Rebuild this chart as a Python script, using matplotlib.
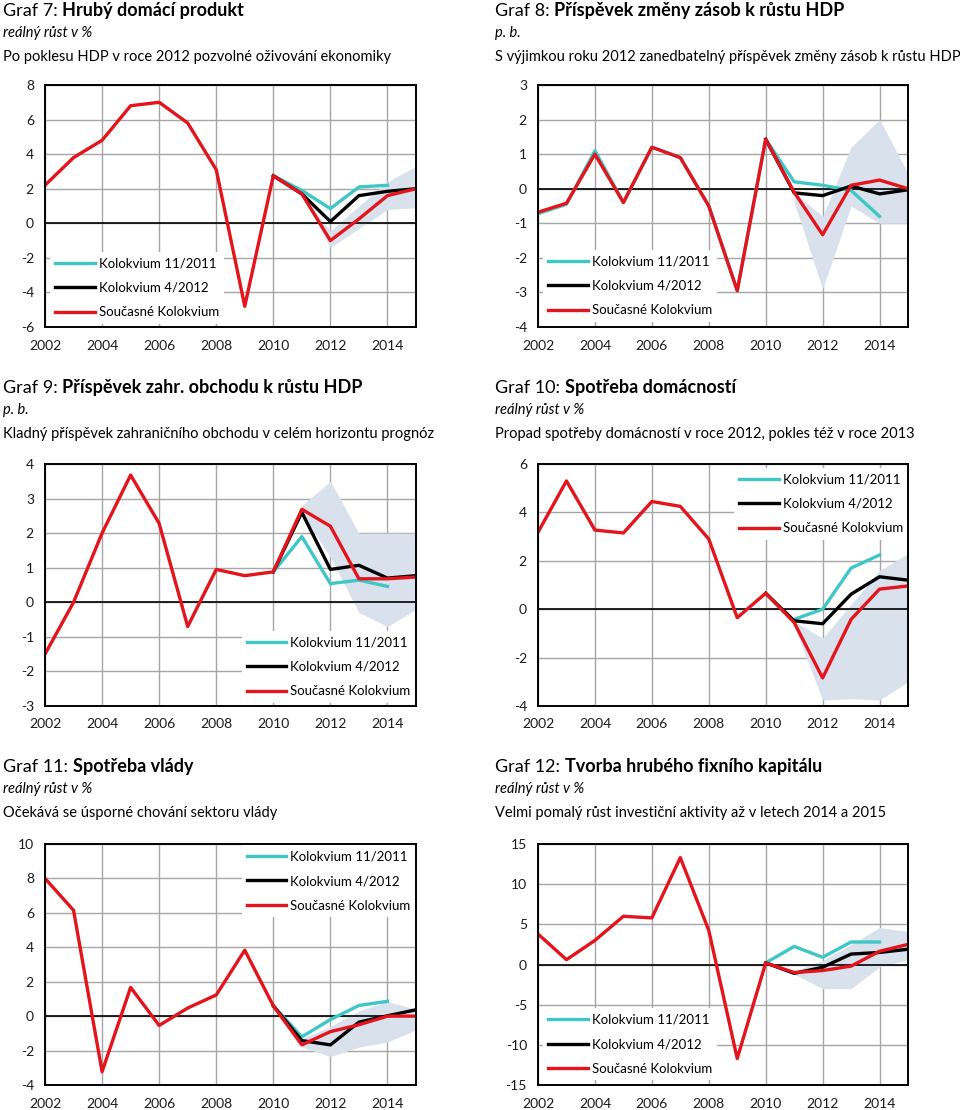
import numpy as np
import matplotlib.pyplot as plt
from matplotlib.text import Annotation

plt.rcParams['font.family'] = ['Lato', 'DejaVu Sans']
plt.rcParams['axes.unicode_minus'] = False

W, H = 960, 1110
years = list(range(2002, 2016))
band_years = list(range(2011, 2016))

# Graf 7: HDP
gdp_now = [2.2, 3.8, 4.8, 6.8, 7.0, 5.8, 3.1, -4.8, 2.75, 1.7, -1.0, 0.25, 1.6, 2.0]
gdp_apr12 = [2.75, 1.7, 0.1, 1.6, 1.85, 2.0]       # od 2010
gdp_nov11 = [2.75, 1.9, 0.85, 2.1, 2.2]            # od 2010
gdp_lo = [1.7, -1.4, -0.3, 0.8, 0.9]
gdp_hi = [1.7, -0.45, 1.0, 2.4, 3.3]

# Graf 8: zasoby
inv_now = [-0.68, -0.42, 1.0, -0.4, 1.2, 0.9, -0.5, -2.95, 1.43, -0.1, -1.33, 0.1, 0.25, 0.0]
inv_apr12 = [1.43, -0.12, -0.2, 0.08, -0.15, -0.03]  # od 2010
inv_nov11 = [-0.72, -0.45, 1.1, -0.4, 1.2, 0.9, -0.5, -2.95, 1.43, 0.2, 0.1, -0.05, -0.8]  # od 2002
inv_lo = [-0.4, -2.9, -0.5, -1.0, -1.0]
inv_hi = [-0.1, -0.8, 1.2, 2.0, 0.45]

# Graf 9: zahranicni obchod
nx_now = [-1.5, 0.0, 2.0, 3.68, 2.28, -0.7, 0.95, 0.77, 0.88, 2.69, 2.2, 0.68, 0.68, 0.73]
nx_apr12 = [0.88, 2.6, 0.95, 1.07, 0.7, 0.77]        # od 2010
nx_nov11 = [0.88, 1.9, 0.54, 0.64, 0.46]             # od 2010
nx_lo = [2.6, 1.3, -0.3, -0.7, -0.2]
nx_hi = [2.8, 3.5, 2.0, 2.0, 2.0]

# Graf 10: spotreba domacnosti
hh_now = [3.18, 5.3, 3.27, 3.15, 4.45, 4.25, 2.9, -0.35, 0.66, -0.55, -2.84, -0.42, 0.83, 0.96]
hh_apr12 = [0.66, -0.48, -0.6, 0.62, 1.34, 1.2]      # od 2010
hh_nov11 = [-0.42, 0.0, 1.7, 2.24]                   # od 2011
hh_lo = [-0.7, -3.75, -3.7, -3.75, -3.0]
hh_hi = [-0.5, -1.2, 0.2, 1.6, 2.3]

# Graf 11: spotreba vlady
gov_now = [8.0, 6.15, -3.23, 1.67, -0.54, 0.47, 1.23, 3.83, 0.6, -1.67, -0.9, -0.5, 0.0, 0.0]
gov_apr12 = [0.6, -1.42, -1.67, -0.35, 0.02, 0.37]   # od 2010
gov_nov11 = [0.6, -1.2, -0.2, 0.62, 0.86]            # od 2010
gov_lo = [-1.8, -2.35, -1.8, -1.5, -0.8]
gov_hi = [-1.3, -0.6, 0.3, 0.85, 0.4]

# Graf 12: investice
gfcf_now = [3.8, 0.6, 3.0, 6.0, 5.8, 13.3, 4.25, -11.7, 0.2, -1.0, -0.75, -0.2, 1.65, 2.5]
gfcf_apr12 = [0.2, -1.1, -0.35, 1.3, 1.5, 1.9]       # od 2010
gfcf_nov11 = [0.2, 2.25, 0.9, 2.8, 2.8]              # od 2010
gfcf_lo = [-1.2, -3.0, -3.0, -0.3, 0.6]
gfcf_hi = [-0.8, 0.5, 2.5, 4.6, 4.1]

labels = ['Kolokvium 11/2011', 'Kolokvium 4/2012', 'Současné Kolokvium']
c_nov = '#3fc6c6'
c_apr = '#000000'
c_now = '#e3141c'
c_band = '#d8e1ec'

fig = plt.figure(figsize=(W / 100, H / 100), dpi=100)


def px_axes(left, top, right, bottom):
    return fig.add_axes([left / W, 1 - bottom / H, (right - left) / W, (bottom - top) / H])


def heading(x, y, num, bold, sub, desc):
    t = fig.text(x / W, 1 - y / H, num + ' ', fontsize=13, va='center', ha='left')
    fig.add_artist(Annotation(bold, xy=(1, 0), xycoords=t, fontsize=13, fontweight='bold',
                              va='bottom', ha='left', annotation_clip=False))
    fig.text(x / W, 1 - (y + 22) / H, sub, fontsize=10.5, style='italic', va='center')
    fig.text(x / W, 1 - (y + 46) / H, desc, fontsize=10.5, va='center')


def panel(box, now, apr12, apr_from, nov11, nov_from, lo, hi, ylim, ystep, leg_anchor):
    ax = px_axes(*box)
    ax.fill_between(band_years, lo, hi, color=c_band, lw=0, zorder=2)
    ax.axhline(0, color='black', lw=1.2, zorder=2.5)
    l1, = ax.plot(range(nov_from, nov_from + len(nov11)), nov11, color=c_nov, lw=2.4, zorder=3)
    l2, = ax.plot(range(apr_from, apr_from + len(apr12)), apr12, color=c_apr, lw=2.4, zorder=4)
    l3, = ax.plot(years, now, color=c_now, lw=2.4, zorder=5)
    ax.set_xlim(2002, 2015)
    ax.set_ylim(*ylim)
    ax.set_xticks(range(2002, 2015, 2))
    ax.set_yticks(np.arange(ylim[0], ylim[1] + 0.1, ystep))
    ax.grid(True, color='#a6a6a6', lw=1.0)
    ax.set_axisbelow(True)
    for s in ax.spines.values():
        s.set_linewidth(1.4)
        s.set_color('black')
        s.set_zorder(6)
    ax.tick_params(length=0, labelsize=10, colors='#1a1a1a')
    ax.tick_params(axis='x', pad=9)
    ax.tick_params(axis='y', pad=8)
    leg = ax.legend([l1, l2, l3], labels, loc='upper left', bbox_to_anchor=leg_anchor,
                    fontsize=9.5, handlelength=3.0, handletextpad=0.3, labelspacing=0.95,
                    frameon=True, fancybox=False, framealpha=1, facecolor='white',
                    edgecolor='none', borderpad=0.4, borderaxespad=0)
    leg.set_zorder(4.5)
    return ax


heading(3, 11, 'Graf 7:', 'Hrubý domácí produkt', 'reálný růst v %',
        'Po poklesu HDP v roce 2012 pozvolné oživování ekonomiky')
heading(495, 11, 'Graf 8:', 'Příspěvek změny zásob k růstu HDP', 'p. b.',
        'S výjimkou roku 2012 zanedbatelný příspěvek změny zásob k růstu HDP')
heading(3, 388, 'Graf 9:', 'Příspěvek zahr. obchodu k růstu HDP', 'p. b.',
        'Kladný příspěvek zahraničního obchodu v celém horizontu prognóz')
heading(495, 388, 'Graf 10:', 'Spotřeba domácností', 'reálný růst v %',
        'Propad spotřeby domácností v roce 2012, pokles též v roce 2013')
heading(3, 767, 'Graf 11:', 'Spotřeba vlády', 'reálný růst v %',
        'Očekává se úsporné chování sektoru vlády')
heading(495, 767, 'Graf 12:', 'Tvorba hrubého fixního kapitálu', 'reálný růst v %',
        'Velmi pomalý růst investiční aktivity až v letech 2014 a 2015')

panel((45, 85, 416, 327), gdp_now, gdp_apr12, 2010, gdp_nov11, 2010, gdp_lo, gdp_hi,
      (-6, 8), 2, (0.013, 0.31))
panel((538, 85, 908, 327), inv_now, inv_apr12, 2010, inv_nov11, 2002, inv_lo, inv_hi,
      (-4, 3), 1, (0.013, 0.318))
panel((45, 464, 416, 706), nx_now, nx_apr12, 2010, nx_nov11, 2010, nx_lo, nx_hi,
      (-3, 4), 1, (0.53, 0.31))
panel((538, 464, 908, 706), hh_now, hh_apr12, 2010, hh_nov11, 2011, hh_lo, hh_hi,
      (-4, 6), 2, (0.53, 0.983))
panel((45, 844, 416, 1085), gov_now, gov_apr12, 2010, gov_nov11, 2010, gov_lo, gov_hi,
      (-4, 10), 2, (0.53, 0.995))
panel((538, 844, 908, 1085), gfcf_now, gfcf_apr12, 2010, gfcf_nov11, 2010, gfcf_lo, gfcf_hi,
      (-15, 15), 5, (0.013, 0.318))

fig.savefig('out.png', dpi=100)
